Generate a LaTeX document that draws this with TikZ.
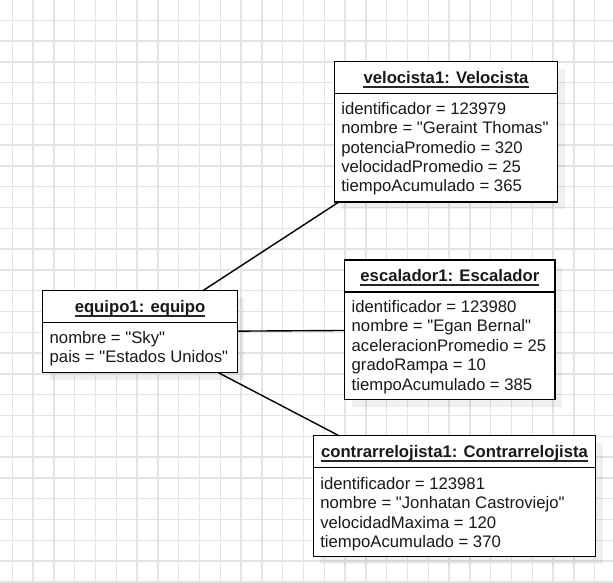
\documentclass[tikz,border=0pt]{standalone}
\usepackage{fontspec}
\setmainfont{Liberation Sans}[Ligatures=TeXOff]
\usetikzlibrary{shadows}
\definecolor{gridgray}{RGB}{228,228,228}
\tikzset{
  gridline/.style={draw=gridgray, line width=1.3pt},
  objbox/.style={draw=black, line width=1.4pt, fill=white, inner sep=0pt, outer sep=0pt,
     drop shadow={shadow xshift=7pt, shadow yshift=-7pt, fill=black, opacity=0.06}},
  sepline/.style={draw=black, line width=1.4pt},
  titleline/.style={draw=black!85, line width=1.6pt},
  objtitle/.style={font=\bfseries\fontsize{16.7}{19.4}\selectfont, inner sep=0pt, anchor=base, text=black!90},
  objattr/.style={font=\fontsize{16.7}{19.4}\selectfont, align=left, inner sep=0pt, anchor=north west, text=black!90},
  link/.style={draw=black, line width=1.4pt},
}
\begin{document}
\begin{tikzpicture}[x=1pt,y=-1pt]
\useasboundingbox (0,0) rectangle (613,582);
\fill[white] (0,0) rectangle (613,582);
\begin{scope}
\clip (0,0) rectangle (613,582);
\foreach \i in {0,...,29} \draw[gridline] ({-8.5+20.8*\i},0) -- ({-8.5+20.8*\i},582);
\foreach \i in {0,...,28} \draw[gridline] (0,{-0.5+20.8*\i}) -- (613,{-0.5+20.8*\i});
\end{scope}

% boxes
\node[objbox, minimum width=223.4pt, minimum height=140.3pt] (vel) at (446,131.85) {};
\node[objbox, minimum width=210.3pt, minimum height=139.7pt] (esc) at (449.85,329.85) {};
\node[objbox, minimum width=194.6pt, minimum height=82pt] (equ) at (140,331.7) {};
\node[objbox, minimum width=282.4pt, minimum height=121pt] (con) at (454.5,496.2) {};

% connectors
\draw[link] (equ) -- (vel);
\draw[link] (equ) -- (esc);
\draw[link] (equ) -- (con);

% separators
\foreach \b in {vel,esc,equ,con}
  \draw[sepline] ([yshift=-32pt]\b.north west) -- ([yshift=-32pt]\b.north east);

% titles
\node[objtitle] (velt) at (446,83.1) {velocista1: Velocista};
\node[objtitle] (esct) at (449.85,281.4) {escalador1: Escalador};
\node[objtitle] (equt) at (140,312.1) {equipo1: equipo};
\node[objtitle] (cont) at (454.5,457.1) {contrarrelojista1: Contrarrelojista};
\foreach \t in {velt,esct,equt,cont}
  \draw[titleline] ([yshift=-3.8pt]\t.base west) -- ([yshift=-3.8pt]\t.base east);

% attributes
\node[objattr] (vela) at (341.1,100.5) {\strut identificador = 123979\\\strut nombre = "Geraint Thomas"\\\strut potenciaPromedio = 320\\\strut velocidadPromedio = 25\\\strut tiempoAcumulado = 365};
\node[objattr] (esca) at (351.5,298.8) {\strut identificador = 123980\\\strut nombre = "Egan Bernal"\\\strut aceleracionPromedio = 25\\\strut gradoRampa = 10\\\strut tiempoAcumulado = 385};
\node[objattr] (equa) at (49.5,329.8) {\strut nombre = "Sky"\\\strut pais = "Estados Unidos"};
\node[objattr] (cona) at (320.1,475.5) {\strut identificador = 123981\\\strut nombre = "Jonhatan Castroviejo"\\\strut velocidadMaxima = 120\\\strut tiempoAcumulado = 370};
\end{tikzpicture}
\end{document}
